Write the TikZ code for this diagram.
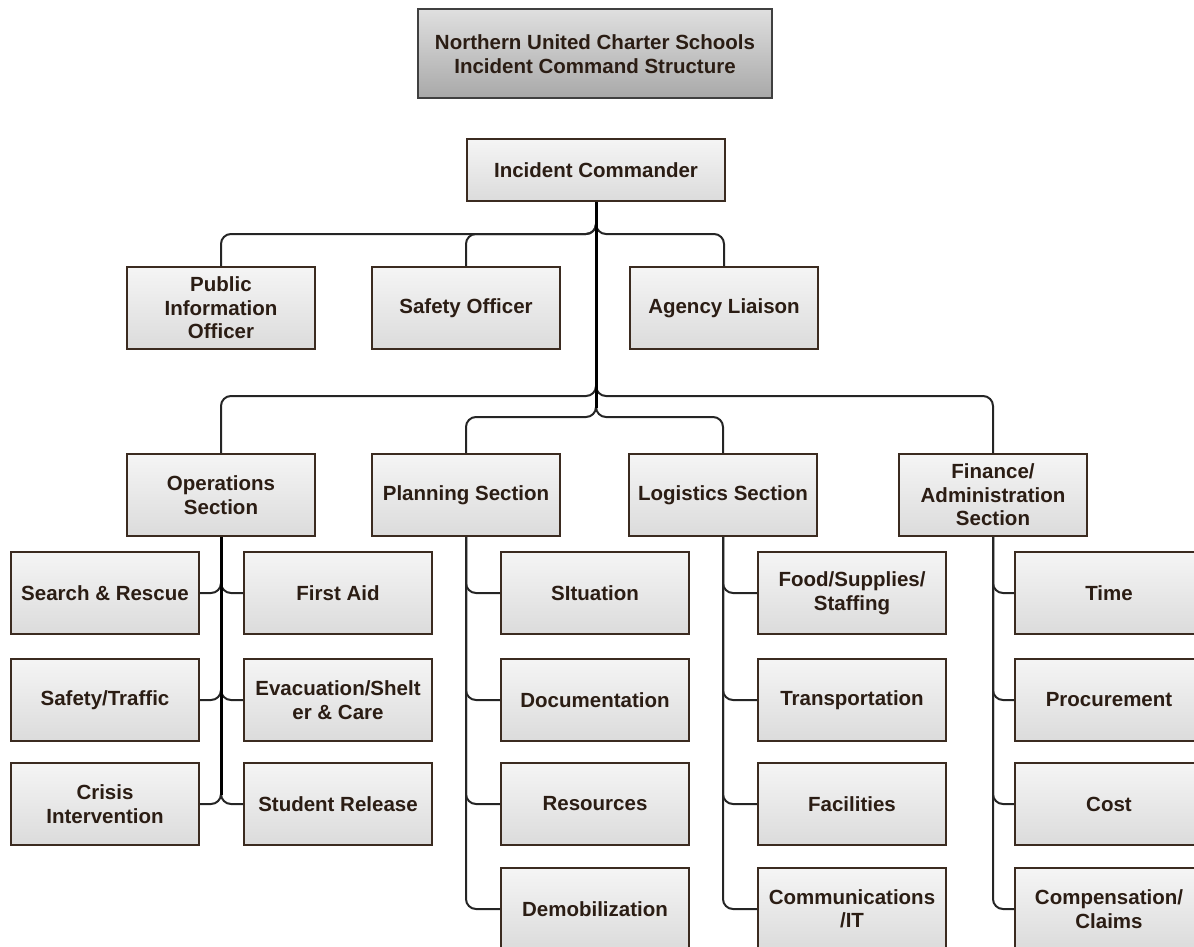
\documentclass[tikz,border=0pt]{standalone}
\usepackage{fontspec}
\setmainfont{Liberation Sans}
\usetikzlibrary{positioning}
\definecolor{boxline}{HTML}{3B2B20}
\definecolor{boxtext}{HTML}{2B1D14}
\definecolor{linkcol}{HTML}{252525}

\begin{document}
\begin{tikzpicture}[x=1pt, y=-1pt,
		every node/.style={font=\fontsize{20.5}{23.5}\selectfont\bfseries, text=boxtext, align=center},
		unit/.style={draw=boxline, line width=2pt, top color=gray!8, bottom color=gray!28, minimum width=188pt, minimum height=82pt, inner sep=2pt},
		chief/.style={unit, minimum width=258pt, minimum height=62pt},
		banner/.style={draw=black!75, line width=2pt, top color=gray!25, bottom color=gray!68, minimum width=354pt, minimum height=89pt},
		link/.style={draw=linkcol, line width=2pt, rounded corners=10pt},
		trunk/.style={link, draw=black, line width=3pt} ]
		\useasboundingbox (0,0) rectangle (1194,947);
		\node[banner] (title) at (595,54) {Northern United Charter Schools\\Incident Command Structure};
		\node[chief] (ic) at (596,170) {Incident Commander};
		% command staff
		\node[unit] (pio) at (221,308) {Public\\Information\\Officer};
		\node[unit] (safety) at (466,308) {Safety Officer};
		\node[unit] (liaison) at (724,308) {Agency Liaison};
		% sections
		\node[unit] (ops) at (221,495) {Operations\\Section};
		\node[unit] (plan) at (466,495) {Planning Section};
		\node[unit] (logi) at (723,495) {Logistics Section};
		\node[unit] (fin) at (993,495) {Finance/\\Administration\\Section};
		% operations units
		\node[unit] (search) at (105,593) {Search \& Rescue};
		\node[unit] (firstaid) at (338,593) {First Aid};
		\node[unit] (traffic) at (105,700) {Safety/Traffic};
		\node[unit] (evac) at (338,700) {Evacuation/Shelt\\er \& Care};
		\node[unit] (crisis) at (105,804) {Crisis\\Intervention};
		\node[unit] (release) at (338,804) {Student Release};
		% planning units
		\node[unit] (sit) at (595,593) {SItuation};
		\node[unit] (doc) at (595,700) {Documentation};
		\node[unit] (res) at (595,804) {Resources};
		\node[unit] (demob) at (595,909) {Demobilization};
		% logistics units
		\node[unit] (food) at (852,593) {Food/Supplies/\\Staffing};
		\node[unit] (transport) at (852,700) {Transportation};
		\node[unit] (facil) at (852,804) {Facilities};
		\node[unit] (comms) at (852,909) {Communications\\/IT};
		% finance units
		\node[unit] (time) at (1109,593) {Time};
		\node[unit] (procure) at (1109,700) {Procurement};
		\node[unit] (cost) at (1109,804) {Cost};
		\node[unit] (comp) at (1109,909) {Compensation/\\Claims};

		\foreach \c in {pio, safety, liaison}
			\draw[link] (ic.south) -- (596,234) -| (\c.north);
		\foreach \c in {ops, fin}
			\draw[link] (ic.south) -- (596,396) -| (\c.north);
		\foreach \c in {plan, logi}
			\draw[link] (ic.south) -- (596,417) -| (\c.north);
		\draw[trunk] (ic.south) -- (596,408);

		\foreach \c in {search, traffic, crisis}
			\draw[link] (ops.south) |- (\c.east);
		\foreach \c in {firstaid, evac, release}
			\draw[link] (ops.south) |- (\c.west);
		\draw[trunk] (ops.south) -- (221,795);
		\foreach \c in {sit, doc, res, demob}
			\draw[link] (plan.south) |- (\c.west);
		\foreach \c in {food, transport, facil, comms}
			\draw[link] (logi.south) |- (\c.west);
		\foreach \c in {time, procure, cost, comp}
			\draw[link] (fin.south) |- (\c.west);
	\end{tikzpicture}
\end{document}
